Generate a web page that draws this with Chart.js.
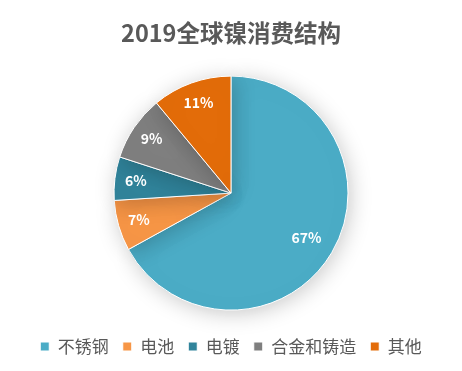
<!DOCTYPE html>
<html>
<head>
<meta charset="utf-8">
<script src="https://cdn.jsdelivr.net/npm/chart.js@4"></script>
<style>
  html, body { margin: 0; padding: 0; background: #fff; }
  #wrap { width: 462px; height: 371px; }
</style>
</head>
<body>
<div id="wrap"><canvas id="myChart"></canvas></div>
<script>
// data
var labels = ["不锈钢", "电池", "电镀", "合金和铸造", "其他"];
var shares = [67, 7, 6, 9, 11];
var colors = ["#4BACC6", "#F79646", "#31849B", "#7F7F7F", "#E36C09"];

var font = "'Noto Sans CJK SC', 'Noto Sans', sans-serif";

// soft shadow behind the pie
var shadowPlugin = {
  id: "pieShadow",
  beforeDatasetsDraw: function (chart) {
    var ctx = chart.ctx;
    ctx.save();
    ctx.shadowColor = "rgba(0,0,0,0.22)";
    ctx.shadowBlur = 22;
    ctx.shadowOffsetX = 2;
    ctx.shadowOffsetY = 3;
  },
  afterDatasetsDraw: function (chart) {
    chart.ctx.restore();
  }
};

// percentage labels inside slices
var labelPlugin = {
  id: "sliceLabels",
  afterDatasetsDraw: function (chart) {
    var ctx = chart.ctx;
    var meta = chart.getDatasetMeta(0);
    ctx.save();
    ctx.fillStyle = "#fff";
    ctx.font = "bold 14px " + font;
    ctx.textAlign = "center";
    ctx.textBaseline = "middle";
    meta.data.forEach(function (arc, i) {
      var p = arc.getProps(["x", "y", "startAngle", "endAngle", "outerRadius"], true);
      var mid = (p.startAngle + p.endAngle) / 2;
      var r = p.outerRadius * (i === 0 ? 0.75 : 0.82);
      ctx.fillText(shares[i] + "%", p.x + Math.cos(mid) * r, p.y + Math.sin(mid) * r);
    });
    ctx.restore();
  }
};

var ctx = document.getElementById("myChart").getContext("2d");
var chart = new Chart(ctx, {
  type: "pie",
  data: {
    labels: labels,
    datasets: [{
      data: shares,
      backgroundColor: colors,
      borderColor: "#fff",
      borderWidth: 1,
      radius: 117
    }]
  },
  options: {
    responsive: true,
    maintainAspectRatio: false,
    animation: false,
    layout: { padding: { top: 0, bottom: 6 } },
    plugins: {
      title: {
        display: true,
        text: "2019全球镍消费结构",
        color: "#595959",
        font: { family: font, size: 23.5, weight: "bold" },
        padding: { top: 19, bottom: 15 }
      },
      legend: {
        position: "bottom",
        labels: {
          color: "#595959",
          font: { family: font, size: 17 },
          boxWidth: 9,
          boxHeight: 9,
          padding: 14
        }
      },
      tooltip: { enabled: false }
    }
  },
  plugins: [shadowPlugin, labelPlugin]
});
</script>
</body>
</html>
